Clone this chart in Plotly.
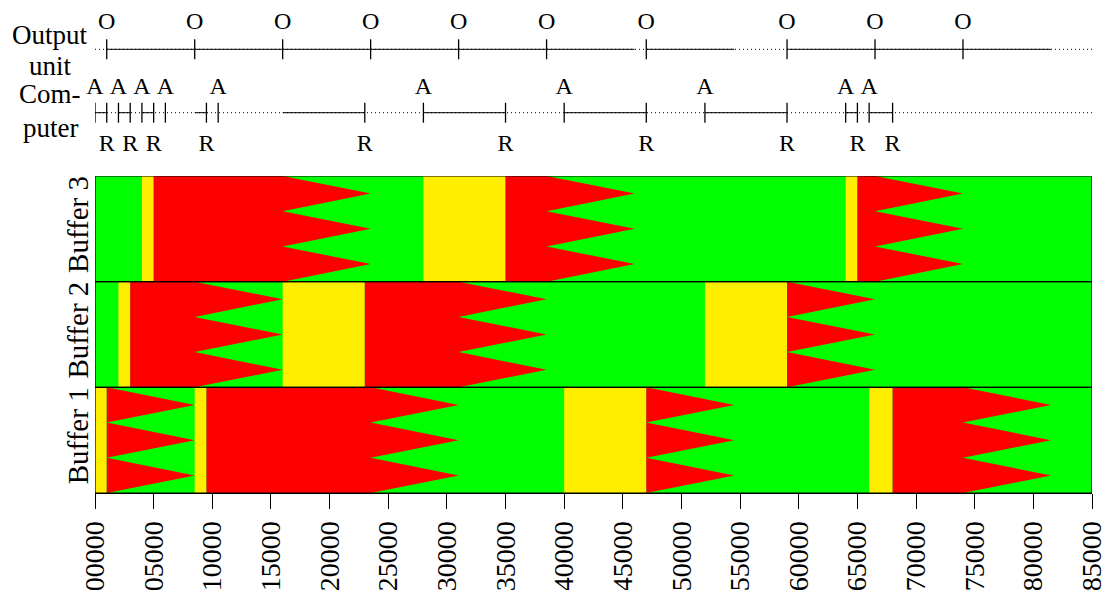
import plotly.graph_objects as go

# ---------------- data ----------------
X_MIN, X_MAX = 0, 85000
X_TICKS = [0, 5000, 10000, 15000, 20000, 25000, 30000, 35000, 40000,
           45000, 50000, 55000, 60000, 65000, 70000, 75000, 80000, 85000]
X_TICK_LABELS = ["00000", "05000", "10000", "15000", "20000", "25000",
                 "30000", "35000", "40000", "45000", "50000", "55000",
                 "60000", "65000", "70000", "75000", "80000", "85000"]
BUFFERS = ["Buffer 1", "Buffer 2", "Buffer 3"]
TEETH = 3  # records per buffer

# computer: request (A), start of filling, ready (R), buffer filled
REQUEST = [0, 2000, 4000, 6000, 10500, 28000, 40000, 52000, 64000, 66000]
FILL_START = [0, 2000, 4000, 8500, 16000, 28000, 40000, 52000, 64000, 66000]
READY = [1000, 3000, 5000, 9500, 23000, 35000, 47000, 59000, 65000, 68000]
FILL_BUFFER = [1, 2, 3, 1, 2, 3, 1, 2, 3, 1]

# output unit: start (O) and end of emptying the buffer
OUT_START = [1000, 8500, 16000, 23500, 31000, 38500, 47000, 59000, 66500, 74000]
OUT_END = [8500, 16000, 23500, 31000, 38500, 46000, 54500, 66500, 74000, 81500]

# ---------------- style ----------------
GREEN = "#00ff00"
RED = "#ff0000"
YELLOW = "#ffee00"
FONT = "Liberation Serif"
W, H = 1109, 590
M_L, M_R, M_T, M_B = 95, 17, 0, 97
PLOT_H = H - M_T - M_B
BUF_TOP_PX = 176                      # top of buffer panel (px from top)
SPLIT = (PLOT_H - BUF_TOP_PX) / PLOT_H

ROW_OUT, ROW_COMP = 1, 0
OUT_PX, COMP_PX = 49.3, 112.7
K = (COMP_PX - OUT_PX) / (ROW_OUT - ROW_COMP)   # px per unit in y2
Y2_RANGE = [ROW_COMP - (BUF_TOP_PX - COMP_PX) / K, ROW_OUT + OUT_PX / K]
TICK_H = 10 / K
O_OFF = 26 / K
A_OFF = 25 / K
R_OFF = 32 / K

fig = go.Figure()


def poly_trace(xs, ys, color, yaxis="y"):
    return go.Scatter(x=xs, y=ys, fill="toself", fillcolor=color, mode="lines",
                      line=dict(width=0, color=color), hoverinfo="skip",
                      showlegend=False, yaxis=yaxis)


# green background of each buffer
gx, gy = [], []
for i in range(len(BUFFERS)):
    gx += [X_MIN, X_MAX, X_MAX, X_MIN, X_MIN, None]
    gy += [i, i, i + 1, i + 1, i, None]
fig.add_trace(poly_trace(gx, gy, GREEN))

# yellow: the computer is filling the buffer
yx, yy = [], []
for s, r, b in zip(FILL_START, READY, FILL_BUFFER):
    yx += [s, r, r, s, s, None]
    yy += [b - 1, b - 1, b, b, b - 1, None]
fig.add_trace(poly_trace(yx, yy, YELLOW))

# red: full buffer, emptied record by record by the output unit
rx, ry = [], []
for k, b in enumerate(FILL_BUFFER):
    f, s, e = READY[k], OUT_START[k], OUT_END[k]
    bot, top = b - 1, b
    xs = [f, f, s]
    ys = [bot, top, top]
    for j in range(TEETH):
        xs += [e, s]
        ys += [top - (j + 0.5) / TEETH, top - (j + 1) / TEETH]
    xs += [f, None]
    ys += [bot, None]
    rx += xs
    ry += ys
fig.add_trace(poly_trace(rx, ry, RED))

# buffer outlines
for i in range(len(BUFFERS)):
    fig.add_shape(type="rect", xref="x", yref="y", x0=X_MIN, x1=X_MAX,
                  y0=i, y1=i + 1, line=dict(color="black", width=1.2),
                  layer="above")


def line_trace(xs, ys, dash="solid", width=1.0):
    return go.Scatter(x=xs, y=ys, mode="lines",
                      line=dict(color="black", width=width, dash=dash),
                      hoverinfo="skip", showlegend=False, yaxis="y2")


def segs(starts, ends, row):
    xs, ys = [], []
    for a, b in zip(starts, ends):
        xs += [a, b, None]
        ys += [row, row, None]
    return xs, ys


def ticks(pos, row):
    xs, ys = [], []
    for p in pos:
        xs += [p, p, None]
        ys += [row - TICK_H, row + TICK_H, None]
    return xs, ys


def text_trace(xs, ys, labels):
    return go.Scatter(x=xs, y=ys, mode="text", text=labels,
                      textposition="middle center",
                      textfont=dict(family=FONT, size=24, color="black"),
                      hoverinfo="skip", showlegend=False, yaxis="y2",
                      cliponaxis=False)


# output unit line
fig.add_trace(line_trace([X_MIN, X_MAX], [ROW_OUT, ROW_OUT], dash="1px,3px"))
fig.add_trace(line_trace(*segs(OUT_START, OUT_END, ROW_OUT)))
fig.add_trace(line_trace(*ticks(OUT_START, ROW_OUT), width=1.3))
fig.add_trace(text_trace(OUT_START, [ROW_OUT + O_OFF] * len(OUT_START),
                         ["O"] * len(OUT_START)))

# computer line
fig.add_trace(line_trace([X_MIN, X_MAX], [ROW_COMP, ROW_COMP], dash="1px,3px"))
fig.add_trace(line_trace(*segs(FILL_START, READY, ROW_COMP)))
fig.add_trace(line_trace(*ticks(REQUEST + READY, ROW_COMP), width=1.3))
fig.add_trace(text_trace(REQUEST, [ROW_COMP + A_OFF] * len(REQUEST),
                         ["A"] * len(REQUEST)))
fig.add_trace(text_trace(READY, [ROW_COMP - R_OFF] * len(READY),
                         ["R"] * len(READY)))

# row titles
LABEL_X = (50 - M_L) / (W - M_L - M_R)
row_titles = [("Output", ROW_OUT + 14 / K), ("unit", ROW_OUT - 17 / K),
              ("Com-", ROW_COMP + 19 / K), ("puter", ROW_COMP - 15 / K)]
for txt, yv in row_titles:
    fig.add_annotation(text=txt, x=LABEL_X, y=yv, xref="paper", yref="y2",
                       xanchor="center", yanchor="middle", showarrow=False,
                       font=dict(family=FONT, size=27, color="black"))

fig.update_layout(
    width=W, height=H,
    margin=dict(l=M_L, r=M_R, t=M_T, b=M_B, pad=0, autoexpand=False),
    paper_bgcolor="white", plot_bgcolor="white",
    showlegend=False,
    xaxis=dict(range=[X_MIN, X_MAX], tickvals=X_TICKS, ticktext=X_TICK_LABELS,
               tickangle=-90, ticks="outside", ticklen=15, tickwidth=1,
               tickcolor="black", showline=True, linecolor="black",
               linewidth=1, showgrid=False, zeroline=False,
               ticklabelstandoff=1, automargin=False,
               tickfont=dict(family=FONT, size=28, color="black"),
               anchor="y"),
    yaxis=dict(domain=[0, SPLIT], range=[0, len(BUFFERS)],
               tickvals=[i + 0.5 for i in range(len(BUFFERS))],
               ticktext=BUFFERS, tickangle=-90, ticks="",
               showgrid=False, zeroline=False, showline=False,
               automargin=False,
               tickfont=dict(family=FONT, size=29, color="black")),
    yaxis2=dict(domain=[SPLIT, 1], range=Y2_RANGE, visible=False,
                anchor="x", showgrid=False, zeroline=False),
)

fig.write_html("out.html", config={"displayModeBar": False},
               post_script="document.body.style.margin='0';"
                           "document.body.style.overflow='hidden';")
